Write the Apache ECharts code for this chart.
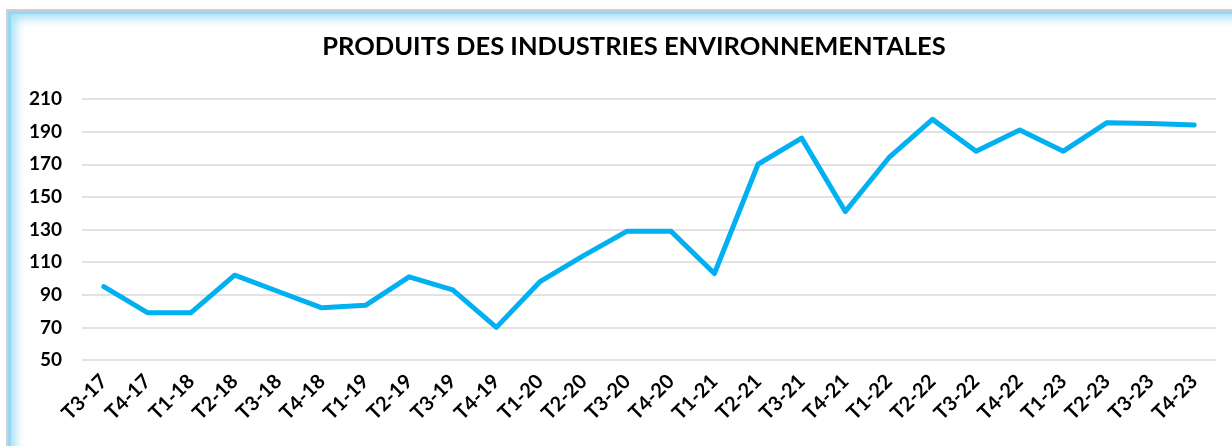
<!DOCTYPE html>
<html><head><meta charset="utf-8">
<script src="https://cdn.jsdelivr.net/npm/echarts@6/dist/echarts.min.js"></script>
<style>
html,body{margin:0;padding:0;background:#fff;}
#wrap{position:relative;width:1232px;height:446px;overflow:hidden;background:#fff;}
#frame{position:absolute;left:6px;top:9px;width:1240px;height:460px;border-top:2px solid #d0d0d0;border-left:2px solid #d0d0d0;
box-shadow: inset 3px 3px 0 #92d7f3, inset 5px 5px 10px 3px #a9e1f6;}
#chart{position:absolute;left:0;top:0;width:1232px;height:446px;}
</style></head>
<body><div id="wrap"><div id="frame"></div><div id="chart"></div></div>
<script>
const categories = ["T3-17","T4-17","T1-18","T2-18","T3-18","T4-18","T1-19","T2-19","T3-19","T4-19","T1-20","T2-20","T3-20","T4-20","T1-21","T2-21","T3-21","T4-21","T1-22","T2-22","T3-22","T4-22","T1-23","T2-23","T3-23","T4-23"];
const values = [95,79,79,102,92,82,83.5,101,93,70,98,114,129,129,103,170,186,141,174,197.5,178,191,178,195.5,195,194];
const yTicks = {min:50, max:210, interval:20};
const titleText = "PRODUITS DES INDUSTRIES ENVIRONNEMENTALES";

const chart = echarts.init(document.getElementById('chart'), null, {renderer:'canvas'});
chart.setOption({
  backgroundColor:'transparent',
  animation:false,
  title:{text:titleText,left:629,textAlign:'center',top:29,textStyle:{fontFamily:'Lato',fontWeight:'bold',fontSize:25.5,color:'#000'}},
  grid:{left:82,right:16,top:99,bottom:86},
  xAxis:{type:'category',data:categories,boundaryGap:true,
    axisLine:{show:false},axisTick:{show:false},
    axisLabel:{rotate:45,margin:18,interval:0,fontFamily:'Lato',fontWeight:'bold',fontSize:20,color:'#000'}},
  yAxis:{type:'value',min:yTicks.min,max:yTicks.max,interval:yTicks.interval,
    axisLine:{show:false},axisTick:{show:false},
    axisLabel:{margin:20,fontFamily:'Lato',fontWeight:'bold',fontSize:19,color:'#000'},
    splitLine:{lineStyle:{color:'#d9d9d9',width:1.5}}},
  series:[{type:'line',data:values,showSymbol:false,symbol:'none',lineStyle:{color:'#00B0F0',width:5,join:'round',cap:'round'}}]
});
</script></body></html>
